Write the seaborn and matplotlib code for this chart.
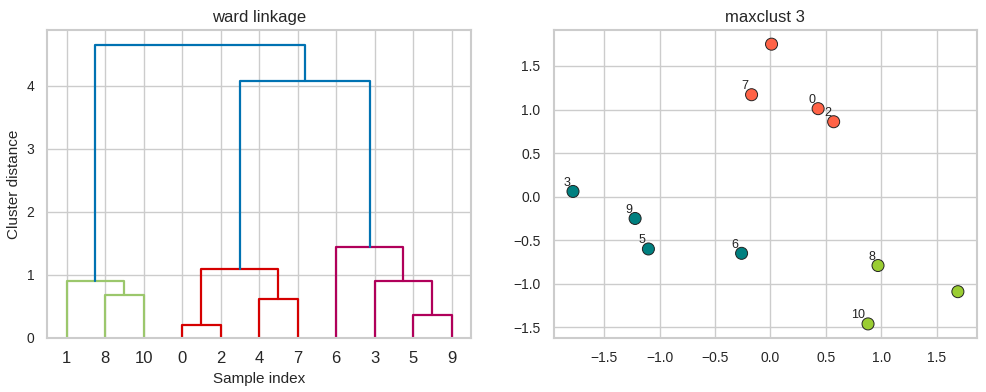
from matplotlib import pyplot as plt
import pandas as pd
import numpy as np
import seaborn as sns

# linkage (scipy style): child a, child b, distance; new ids start at 11
link_a = [0, 5, 4, 8, 1, 3, 11, 6, 17, 15]
link_b = [2, 9, 7, 10, 14, 12, 13, 16, 18, 19]
link_dist = [0.20, 0.37, 0.61, 0.68, 0.90, 0.91, 1.10, 1.45, 4.08, 4.65]
link_color = ["#D50000", "#B0005A", "#D50000", "#9BC76C", "#9BC76C",
              "#B0005A", "#D50000", "#B0005A", "#0072B2", "#0072B2"]

# 2d points, sample index 0..10
px = [0.43, 1.69, 0.57, -1.78, 0.01, -1.10, -0.26, -0.17, 0.97, -1.22, 0.88]
py = [1.01, -1.09, 0.86, 0.06, 1.75, -0.60, -0.65, 1.17, -0.79, -0.25, -1.46]
cluster = [1, 2, 1, 3, 1, 3, 3, 1, 2, 3, 2]
labelled = [0, 2, 3, 5, 6, 7, 8, 9, 10]

cluster_colors = {1: "tomato", 2: "yellowgreen", 3: "teal"}

sns.set_theme(style="whitegrid")
plt.rcParams['font.family'] = ['Liberation Sans', 'DejaVu Sans']
plt.rcParams['axes.edgecolor'] = '.8'

fig, (ax1, ax2) = plt.subplots(1, 2, figsize=(9.87, 3.92), dpi=100)
fig.subplots_adjust(left=0.048, right=0.99, top=0.923, bottom=0.138, wspace=0.196)

n = len(px)

def leaves(node):
    if node < n:
        return [node]
    i = node - n
    return leaves(link_a[i]) + leaves(link_b[i])

order = leaves(n + len(link_a) - 1)
xpos = {leaf: 5 + 10 * k for k, leaf in enumerate(order)}
hgt = {leaf: 0.0 for leaf in range(n)}
for i in range(len(link_a)):
    a, b, d = link_a[i], link_b[i], link_dist[i]
    xa, xb = xpos[a], xpos[b]
    ax1.plot([xa, xa, xb, xb], [hgt[a], d, d, hgt[b]], color=link_color[i], lw=1.6)
    xpos[n + i] = (xa + xb) / 2
    hgt[n + i] = d

ax1.set_xlim(0, 10 * n)
ax1.set_ylim(0, max(link_dist) * 1.05)
ax1.set_xticks([5 + 10 * k for k in range(n)])
ax1.set_xticklabels([str(o) for o in order], fontsize=12)
ax1.set_yticks([0, 1, 2, 3, 4])
ax1.tick_params(axis='y', labelsize=10)
ax1.set_xlabel("Sample index", fontsize=11)
ax1.set_ylabel("Cluster distance", fontsize=11)
ax1.set_title("ward linkage", fontsize=12)

df = pd.DataFrame({"x": px, "y": py, "cluster": cluster})
sns.scatterplot(data=df, x="x", y="y", hue="cluster", palette=cluster_colors,
                s=75, edgecolor="#222222", linewidth=0.7, legend=False, ax=ax2, zorder=3)
for i in labelled:
    ax2.annotate(str(i), (px[i], py[i]), xytext=(-2, 2), textcoords="offset points",
                 ha="right", va="bottom", fontsize=9, color="#222222")
ax2.set_xlabel("")
ax2.set_ylabel("")
ax2.tick_params(labelsize=10)
ax2.set_title("maxclust 3", fontsize=12)

for ax in (ax1, ax2):
    for s in ax.spines.values():
        s.set_color('.8')
        s.set_linewidth(1.5)

fig.savefig("out.png", dpi=100)
